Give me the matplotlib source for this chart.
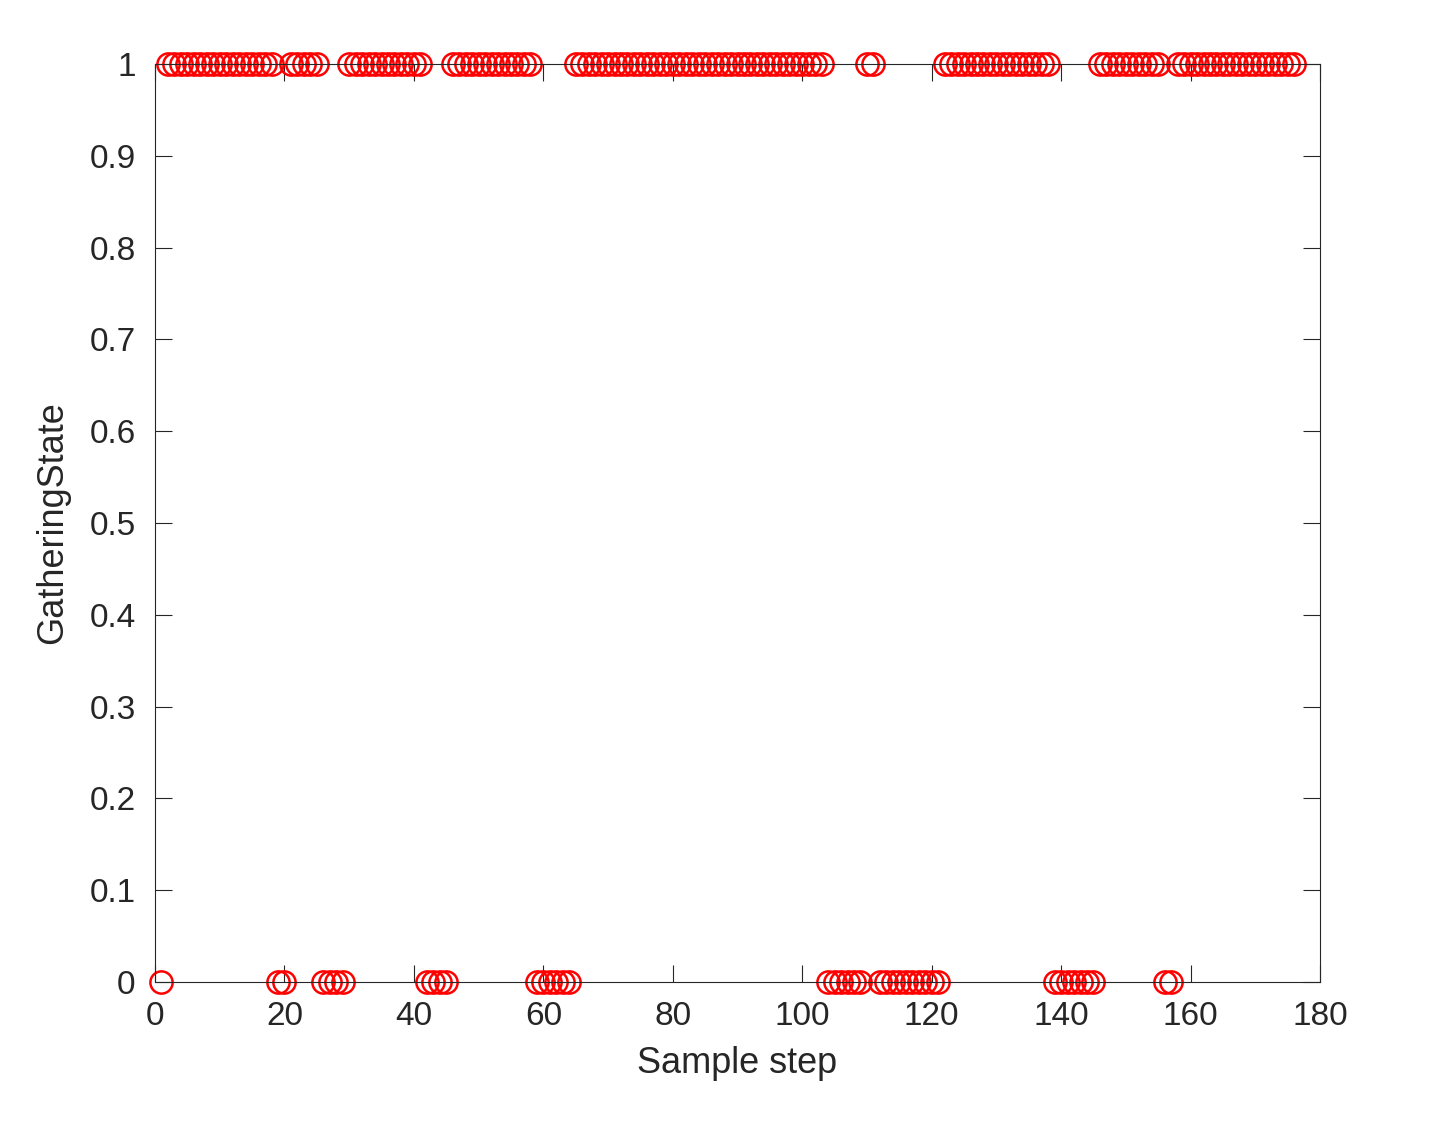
import numpy as np
import matplotlib
matplotlib.use("Agg")
import matplotlib.pyplot as plt

zero_ranges = [(1,1),(19,20),(26,29),(42,45),(59,64),(104,109),(112,121),(139,145),(156,157)]
n_steps = 176
steps = np.arange(1, n_steps+1)
state = np.ones(n_steps)
for a, b in zero_ranges:
    state[a-1:b] = 0

plt.rcParams['font.family'] = ['Liberation Sans', 'DejaVu Sans']
fig = plt.figure(figsize=(14.55, 11.36), dpi=100)
ax = fig.add_axes([155/1455, 1-982/1136, (1320-155)/1455, (982-64)/1136])
ax.plot(steps, state, 'o', mfc='none', mec='red', ms=16, mew=1.8, clip_on=False)
ax.set_xlim(0, 180)
ax.set_ylim(0, 1)
ax.set_xticks(np.arange(0, 181, 20))
ax.set_yticks(np.round(np.arange(0, 1.01, 0.1), 1))
ax.set_yticklabels(['0'] + [f'{v:.1f}' for v in np.arange(0.1, 0.95, 0.1)] + ['1'])
ax.tick_params(direction='in', length=12, labelsize=24, colors='#262626', top=True, right=True, pad=14)
for s in ax.spines.values():
    s.set_color('#262626')
ax.set_xlabel('Sample step', fontsize=26, color='#262626', labelpad=10)
ax.set_ylabel('GatheringState', fontsize=26, color='#262626', labelpad=14)
fig.savefig('out.png', dpi=100)
